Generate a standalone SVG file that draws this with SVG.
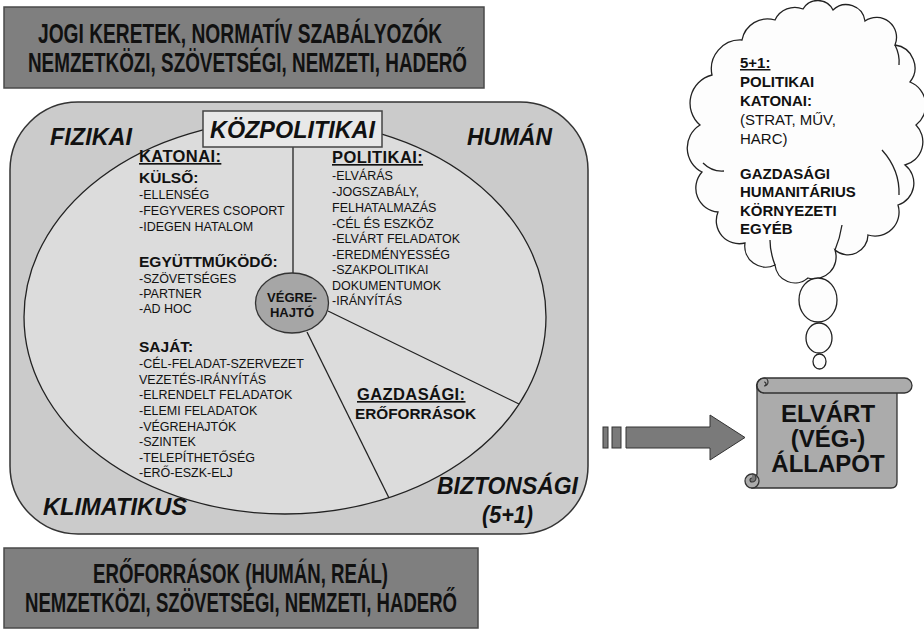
<svg xmlns="http://www.w3.org/2000/svg" width="924" height="630" viewBox="0 0 924 630">
<style>
text{font-family:"Liberation Sans",Arial,sans-serif;fill:#111}
.ban{font-size:28px;font-weight:bold}
.corner{font-size:23.5px;font-weight:bold;font-style:italic}
.h{font-size:15.5px;font-weight:bold}
.hu{font-size:16.5px;font-weight:bold;text-decoration:underline;letter-spacing:0.4px}
.u{text-decoration:underline}
.t{font-size:12.5px}
.cl{font-size:15px;font-weight:bold}
.clr{font-size:15px}
.sc{font-size:24px;font-weight:bold;text-anchor:middle}
.ln{stroke:#222;stroke-width:1.3;fill:none}
</style>
<rect width="924" height="630" fill="#ffffff"/>

<g id="top-banner">
<rect x="4" y="7" width="480" height="81" fill="#7f7f7f" stroke="#4a4a4a" stroke-width="1.5"/>
<text class="ban" x="38" y="43" textLength="404" lengthAdjust="spacingAndGlyphs">JOGI KERETEK, NORMATÍV SZABÁLYOZÓK</text>
<text class="ban" x="28" y="72" textLength="439" lengthAdjust="spacingAndGlyphs">NEMZETKÖZI, SZÖVETSÉGI, NEMZETI, HADERŐ</text>
</g>

<g id="bottom-banner">
<rect x="4" y="548" width="474" height="80" fill="#7f7f7f" stroke="#4a4a4a" stroke-width="1.5"/>
<text class="ban" x="93" y="583" textLength="295" lengthAdjust="spacingAndGlyphs">ERŐFORRÁSOK (HUMÁN, REÁL)</text>
<text class="ban" x="25" y="612" textLength="432" lengthAdjust="spacingAndGlyphs">NEMZETKÖZI, SZÖVETSÉGI, NEMZETI, HADERŐ</text>
</g>

<g id="environment">
<rect x="10" y="102" width="578" height="432" rx="68" ry="68" fill="#cbcbcb" stroke="#333" stroke-width="1.5"/>
<text class="corner" x="50" y="145" textLength="82" lengthAdjust="spacingAndGlyphs">FIZIKAI</text>
<text class="corner" x="467" y="145" textLength="85" lengthAdjust="spacingAndGlyphs">HUMÁN</text>
<text class="corner" x="43" y="515" textLength="144" lengthAdjust="spacingAndGlyphs">KLIMATIKUS</text>
<text class="corner" x="437" y="494" textLength="141" lengthAdjust="spacingAndGlyphs">BIZTONSÁGI</text>
<text class="corner" x="482" y="523" textLength="51" lengthAdjust="spacingAndGlyphs">(5+1)</text>
</g>

<g id="policy-ellipse">
<ellipse cx="285" cy="317" rx="261" ry="197" fill="#dcdcdc" stroke="#222" stroke-width="1.3"/>
</g>

<g id="connectors">
<line class="ln" x1="293" y1="147" x2="293" y2="274"/>
<line class="ln" x1="328" y1="311" x2="519" y2="404"/>
<line class="ln" x1="307" y1="332" x2="389" y2="498"/>
</g>

<g id="kozpolitikai">
<rect x="203" y="111" width="179" height="36" fill="#e8e8e8" stroke="#444" stroke-width="1.5"/>
<text class="corner" x="210" y="138" textLength="165" lengthAdjust="spacingAndGlyphs">KÖZPOLITIKAI</text>
</g>

<g id="katonai">
<text class="hu" x="139" y="162">KATONAI:</text>
<text class="h" x="139" y="183">KÜLSŐ:</text>
<text class="t" x="139" y="199">-ELLENSÉG</text>
<text class="t" x="139" y="215">-FEGYVERES CSOPORT</text>
<text class="t" x="139" y="231">-IDEGEN HATALOM</text>
<text class="h" x="139" y="267">EGYÜTTMŰKÖDŐ:</text>
<text class="t" x="139" y="283">-SZÖVETSÉGES</text>
<text class="t" x="139" y="298">-PARTNER</text>
<text class="t" x="139" y="313">-AD HOC</text>
<text class="h" x="139" y="352">SAJÁT:</text>
<text class="t" x="139" y="368">-CÉL-FELADAT-SZERVEZET</text>
<text class="t" x="139" y="384">VEZETÉS-IRÁNYÍTÁS</text>
<text class="t" x="139" y="399">-ELRENDELT FELADATOK</text>
<text class="t" x="139" y="415">-ELEMI FELADATOK</text>
<text class="t" x="139" y="431">-VÉGREHAJTÓK</text>
<text class="t" x="139" y="446">-SZINTEK</text>
<text class="t" x="139" y="462">-TELEPÍTHETŐSÉG</text>
<text class="t" x="139" y="477">-ERŐ-ESZK-ELJ</text>
</g>

<g id="politikai">
<text class="hu" x="332" y="163">POLITIKAI:</text>
<text class="t" x="332" y="180">-ELVÁRÁS</text>
<text class="t" x="332" y="196">-JOGSZABÁLY,</text>
<text class="t" x="332" y="212">FELHATALMAZÁS</text>
<text class="t" x="332" y="228">-CÉL ÉS ESZKÖZ</text>
<text class="t" x="332" y="243">-ELVÁRT FELADATOK</text>
<text class="t" x="332" y="259">-EREDMÉNYESSÉG</text>
<text class="t" x="332" y="274">-SZAKPOLITIKAI</text>
<text class="t" x="332" y="290">DOKUMENTUMOK</text>
<text class="t" x="332" y="305">-IRÁNYÍTÁS</text>
</g>

<g id="gazdasagi">
<text class="hu" x="357" y="400">GAZDASÁGI:</text>
<text class="h" x="355" y="419" textLength="121" lengthAdjust="spacingAndGlyphs">ERŐFORRÁSOK</text>
</g>

<g id="vegrehajto">
<ellipse cx="292" cy="303" rx="36.5" ry="30" fill="#a6a6a6" stroke="#333" stroke-width="1.3"/>
<text x="292" y="302" text-anchor="middle" font-size="13" font-weight="bold">VÉGRE-</text>
<text x="292" y="317" text-anchor="middle" font-size="13" font-weight="bold">HAJTÓ</text>
</g>

<g id="arrow">
<rect x="603" y="427" width="5" height="21" fill="#7a7a7a" stroke="#333" stroke-width="1"/>
<rect x="612" y="427" width="9" height="21" fill="#7a7a7a" stroke="#333" stroke-width="1"/>
<polygon points="626,427 710,427 710,415 745,437.5 710,460 710,448 626,448" fill="#7a7a7a" stroke="#333" stroke-width="1"/>
</g>

<g id="thought-cloud">
<path d="M712,75 A29,29 0 0 1 742,40 A26,26 0 0 1 775,20 A22,22 0 0 1 803,9 A17,17 0 0 1 833,10 A19,19 0 0 1 865,21 A20,20 0 0 1 895,45 A23,23 0 0 1 910,82 A25,25 0 0 1 916,125 A24,24 0 0 1 905,165 A23,23 0 0 1 898,205 A24,24 0 0 1 868,235 A20,20 0 0 1 835,250 A22,22 0 0 1 808,278 A20,20 0 0 1 775,265 A21,21 0 0 1 745,243 A23,23 0 0 1 718,212 A24,24 0 0 1 702,172 A27,27 0 0 1 700,125 A29,29 0 0 1 712,75 Z" fill="#fdfdfd" stroke="#222" stroke-width="1.3"/>
<path class="ln" d="M703,163 Q712,172 724,171"/>
<path class="ln" d="M882,150 Q900,170 899,195"/>
<path class="ln" d="M835,250 Q840,238 842,225"/>
<path class="ln" d="M775,265 Q770,252 770,240"/>
<path class="ln" d="M895,45 Q900,55 899,65"/>
<text class="cl u" x="740" y="68">5+1:</text>
<text class="cl" x="740" y="87">POLITIKAI</text>
<text class="cl" x="740" y="106">KATONAI:</text>
<text class="clr" x="740" y="125">(STRAT, MŰV,</text>
<text class="clr" x="740" y="144">HARC)</text>
<text class="cl" x="740" y="179">GAZDASÁGI</text>
<text class="cl" x="740" y="197">HUMANITÁRIUS</text>
<text class="cl" x="740" y="216">KÖRNYEZETI</text>
<text class="cl" x="740" y="234">EGYÉB</text>
<ellipse cx="818" cy="300" rx="19" ry="22" fill="#fdfdfd" stroke="#222" stroke-width="1.3"/>
<ellipse cx="819" cy="338" rx="13" ry="15" fill="#fdfdfd" stroke="#222" stroke-width="1.3"/>
<ellipse cx="819.5" cy="361.5" rx="6.5" ry="7.5" fill="#fdfdfd" stroke="#222" stroke-width="1.3"/>
</g>

<g id="goal-scroll">
<path d="M757,385 L897,385 L897,482 Q897,488 891,488 L752,488 L757,474 Z" fill="#ababab" stroke="#333" stroke-width="1.3"/>
<rect x="757" y="378" width="155" height="15" rx="7.5" ry="7.5" fill="#ababab" stroke="#333" stroke-width="1.3"/>
<path d="M764,393 A7.5,7.5 0 0 1 764,378 A4,4 0 0 1 764,386 A2,2 0 0 0 764,382" fill="none" stroke="#333" stroke-width="1.2"/>
<circle cx="752" cy="481" r="7" fill="#ababab" stroke="#333" stroke-width="1.3"/>
<path d="M752,474 A4,4 0 0 1 752,482 A2,2 0 0 1 752,478" fill="#777" stroke="#333" stroke-width="1.1"/>
<text class="sc" x="828" y="422">ELVÁRT</text>
<text class="sc" x="828" y="447">(VÉG-)</text>
<text class="sc" x="828" y="472">ÁLLAPOT</text>
</g>
</svg>
